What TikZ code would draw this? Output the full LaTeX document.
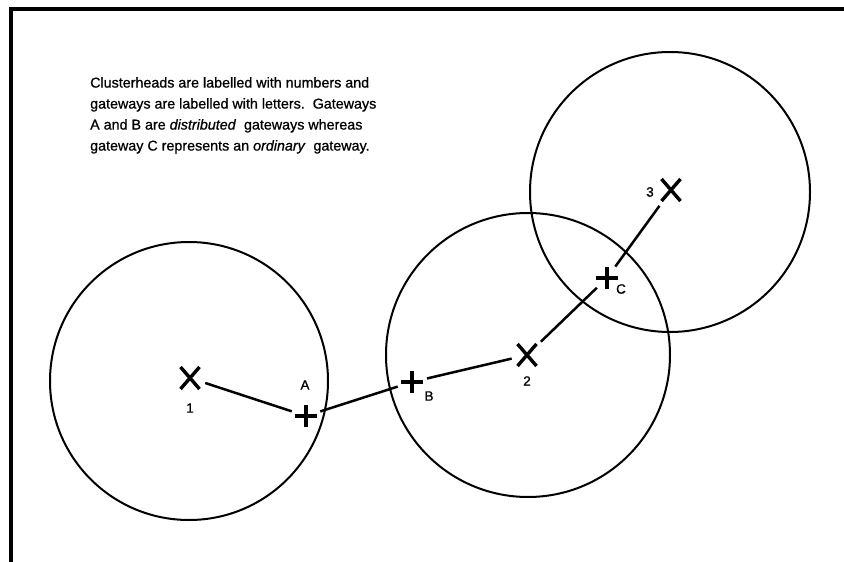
\documentclass[tikz,border=0pt]{standalone}
\usepackage{fontspec}
\setmainfont[FakeBold=0.8]{Liberation Sans}
\usetikzlibrary{shapes.misc}
\begin{document}
\begin{tikzpicture}[x=1pt,y=-1pt,
  cluster/.style={draw,line width=2pt},
  headmark/.style={cross out,draw,line width=3.4pt,minimum width=19pt,minimum height=22pt,inner sep=0pt,outer sep=0pt},
  gatemark/.style={cross out,draw,rotate=45,line width=3.4pt,minimum size=16pt,inner sep=0pt,outer sep=0pt},
  link/.style={line width=2.5pt,shorten <=6pt,shorten >=6pt},
  lbl/.style={font=\fontsize{13.5}{14}\selectfont,inner sep=0pt},
  frameline/.style={line width=4pt}]
\useasboundingbox (0,0) rectangle (844,562);
% frame
\coordinate (fb) at (11,562);
\coordinate (ftl) at (11,9);
\coordinate (fr) at (844,9);
\draw[frameline] (fb) -- (ftl) -- (fr);
% circles
\draw[cluster] (189,381) circle[radius=139];
\draw[cluster] (528,355) circle[radius=142];
\draw[cluster] (670,192) circle[radius=140];
% text
\node[anchor=north west,align=left,inner sep=0pt,font=\fontsize{14.3}{21}\selectfont] (txt) at (90,77)
{Clusterheads are labelled with numbers and\\
gateways are labelled with letters.\ \ Gateways\\
A and B are \textit{distributed}\ \ gateways whereas\\
gateway C represents an \textit{ordinary}\ \ gateway.};
% marks
\node[headmark] (h1) at (190,378) {};
\node[headmark] (h2) at (527,355) {};
\node[headmark] (h3) at (671,190) {};
\node[gatemark] (gA) at (306,416) {};
\node[gatemark] (gB) at (412,382) {};
\node[gatemark] (gC) at (607,278) {};
% labels
\node[lbl] (l1) at (190,408) {1};
\node[lbl] (l2) at (527,381) {2};
\node[lbl] (l3) at (650,192) {3};
\node[lbl] (lA) at (305,385) {A};
\node[lbl] (lB) at (429,396) {B};
\node[lbl] (lC) at (621,289) {C};
% links
\draw[link] (h1) -- (gA);
\draw[link] (gA) -- (gB);
\draw[link] (gB) -- (h2);
\draw[link] (h2) -- (gC);
\draw[link] (gC) -- (h3);
\end{tikzpicture}
\end{document}
